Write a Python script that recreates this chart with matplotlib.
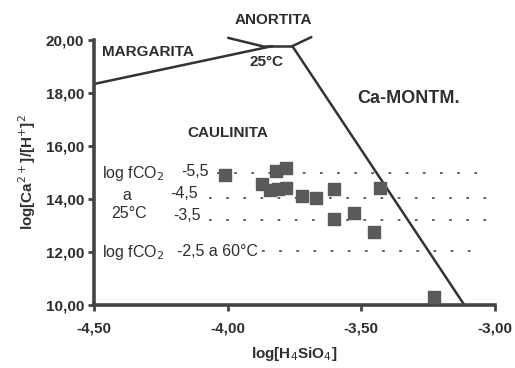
import matplotlib
matplotlib.use("Agg")
import matplotlib.pyplot as plt
from matplotlib.ticker import FuncFormatter

plt.rcParams['font.family'] = ['Liberation Sans', 'DejaVu Sans']

# --- data ---
sample_x = [-4.009, -3.818, -3.781, -3.871, -3.841, -3.811, -3.781, -3.721,
            -3.669, -3.601, -3.429, -3.601, -3.526, -3.451, -3.230]
sample_y = [14.91, 15.06, 15.17, 14.57, 14.34, 14.38, 14.42, 14.11,
            14.04, 14.38, 14.42, 13.25, 13.47, 12.75, 10.30]

margarita_x = [-4.50, -3.833]
margarita_y = [18.34, 19.77]
anortita_a_x = [-3.998, -3.86]
anortita_a_y = [20.08, 19.74]
anortita_b_x = [-3.86, -3.758]
anortita_b_y = [19.77, 19.77]
anortita_c_x = [-3.758, -3.687]
anortita_c_y = [19.77, 20.11]
kaol_mont_x = [-3.758, -3.118]
kaol_mont_y = [19.77, 10.05]

co2_labels = ['-5,5', '-4,5', '-3,5']
co2_line_y = [14.98, 14.04, 13.20]
co2_line_x0 = [-4.04, -4.07, -4.07]
co2_60_y = 12.05
co2_60_x0 = -3.87

xticks = [-4.50, -4.00, -3.50, -3.00]
yticks = [10, 12, 14, 16, 18, 20]

TXT = '#2e2e2e'
fig = plt.figure(figsize=(5.15, 3.68), dpi=100)
ax = fig.add_axes([94/515, 1-305/368, (495-94)/515, (305-40)/368])
ax.set_xlim(-4.5, -3.0)
ax.set_ylim(10, 20)

for s in ['top', 'right']:
    ax.spines[s].set_visible(False)
for s in ['left', 'bottom']:
    ax.spines[s].set_linewidth(2.6)
    ax.spines[s].set_color('#444444')

ax.set_xticks(xticks)
ax.set_yticks(yticks)
fmt = FuncFormatter(lambda v, p: f"{v:.2f}".replace('.', ','))
ax.xaxis.set_major_formatter(fmt)
ax.yaxis.set_major_formatter(fmt)
ax.tick_params(axis='both', direction='out', length=4, width=2, color='#444444',
               labelsize=11, labelcolor=TXT, pad=3)
ax.tick_params(axis='x', pad=8)
for lab in ax.get_xticklabels() + ax.get_yticklabels():
    lab.set_fontweight('bold')

ax.set_xlabel('log[H$_4$SiO$_4$]', fontsize=11, fontweight='bold', color=TXT, labelpad=7)
ax.set_ylabel('log[Ca$^{2+}$]/[H$^{+}$]$^2$', fontsize=11, fontweight='bold', color=TXT, labelpad=6)

lc = '#333333'
for xs, ys in [(margarita_x, margarita_y), (anortita_a_x, anortita_a_y),
               (anortita_b_x, anortita_b_y), (anortita_c_x, anortita_c_y),
               (kaol_mont_x, kaol_mont_y)]:
    ax.plot(xs, ys, color=lc, lw=1.8, clip_on=False, solid_capstyle='round')

dot = (0, (1.5, 8))
for y, x0 in zip(co2_line_y, co2_line_x0):
    ax.plot([x0, -3.02], [y, y], color='#555555', lw=1.3, ls=dot)
ax.plot([co2_60_x0, -3.07], [co2_60_y, co2_60_y], color='#555555', lw=1.3, ls=dot)

ax.scatter(sample_x, sample_y, marker='s', s=70, color='#5a5a5a', zorder=5, clip_on=False)

tk = dict(color=TXT, fontsize=11, fontweight='bold')
ax.text(-3.83, 20.75, 'ANORTITA', ha='center', va='center', clip_on=False, **tk)
ax.text(-4.47, 19.55, 'MARGARITA', ha='left', va='center', **tk)
ax.text(-3.856, 19.17, '25°C', ha='center', va='center', **tk)
ax.text(-3.515, 17.8, 'Ca-MONTM.', ha='left', va='center', fontsize=13, color=TXT, fontweight='bold')
ax.text(-4.15, 16.5, 'CAULINITA', ha='left', va='center', **tk)

nk = dict(color=TXT, fontsize=11.5)
ax.text(-4.47, 14.98, 'log fCO$_2$', ha='left', va='center', **nk)
ax.text(-4.376, 14.15, 'a', ha='center', va='center', **nk)
ax.text(-4.369, 13.45, '25°C', ha='center', va='center', **nk)
ax.text(-4.07, 15.02, co2_labels[0], ha='right', va='center', **nk)
ax.text(-4.11, 14.2, co2_labels[1], ha='right', va='center', **nk)
ax.text(-4.10, 13.38, co2_labels[2], ha='right', va='center', **nk)
ax.text(-4.47, 12.0, 'log fCO$_2$', ha='left', va='center', **nk)
ax.text(-4.19, 12.0, '-2,5 a 60°C', ha='left', va='center', **nk)

fig.savefig('out.png', dpi=100)
